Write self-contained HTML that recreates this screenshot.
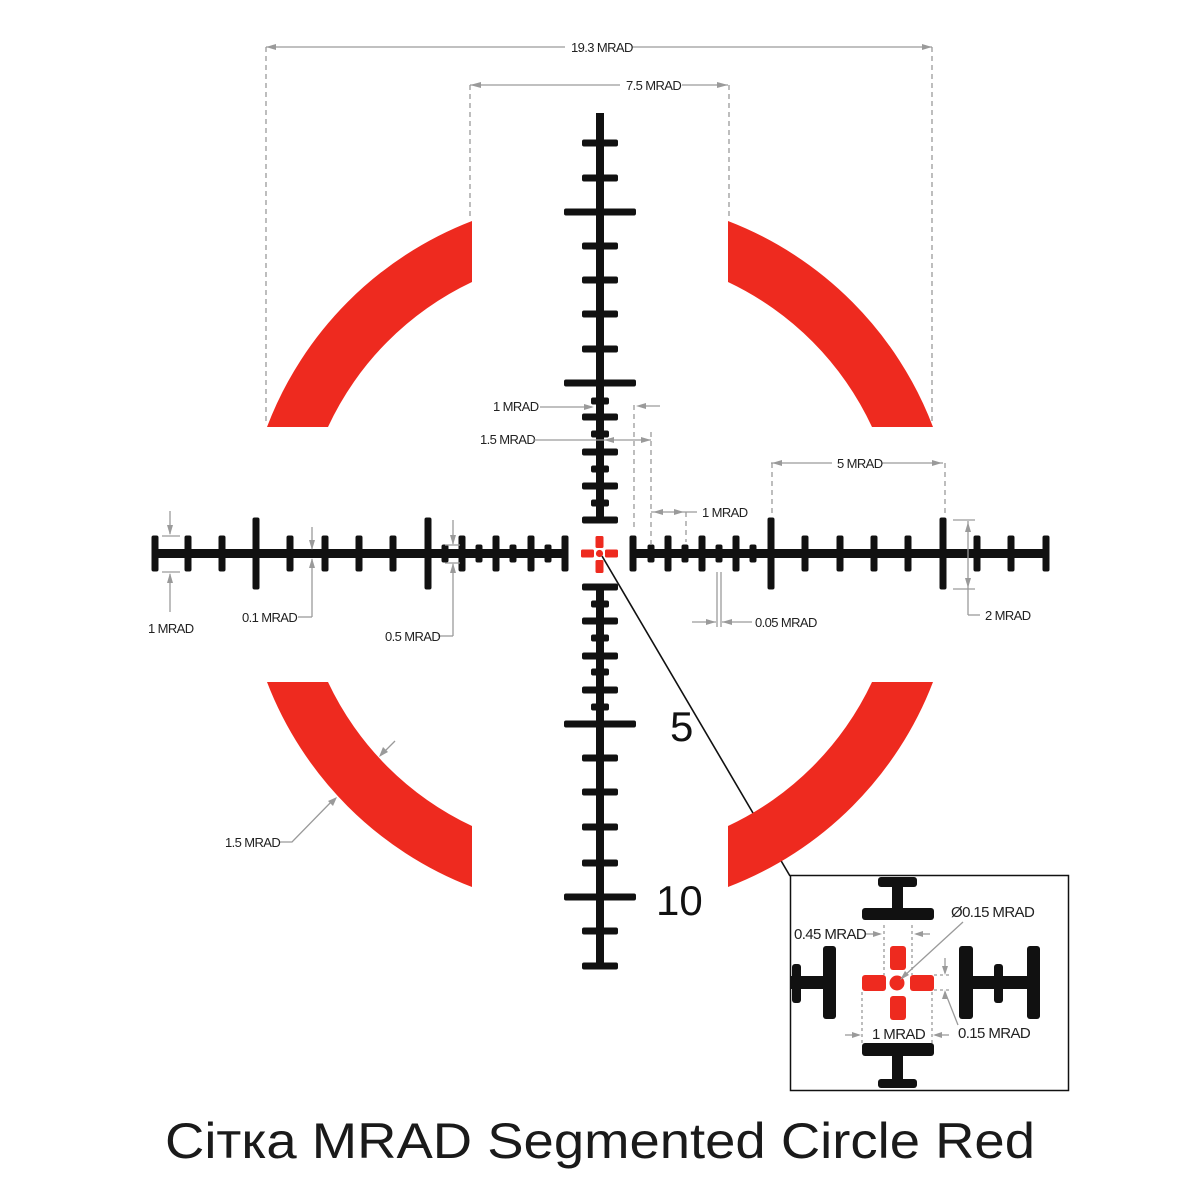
<!DOCTYPE html>
<html><head><meta charset="utf-8"><style>
html,body{margin:0;padding:0;background:#fff;}
svg{display:block}
.t{font-family:"Liberation Sans",sans-serif;font-size:13px;fill:#222;letter-spacing:-0.6px}
.g{stroke:#9a9a9a;stroke-width:1.3;fill:none}
.d{stroke:#9a9a9a;stroke-width:1.3;fill:none;stroke-dasharray:5,4}
.a{fill:#9a9a9a}
</style></head><body>
<svg width="1200" height="1200" viewBox="0 0 1200 1200" xmlns="http://www.w3.org/2000/svg">
<rect width="1200" height="1200" fill="#fff"/>
<line x1="602" y1="556" x2="790" y2="876" stroke="#111" stroke-width="1.6"/>
<g fill="#ee2a1f">
<path d="M267,427 A356,356 0 0 1 472,221 L472,282 A300,300 0 0 0 328,427 Z"/>
<path d="M728,221 A356,356 0 0 1 933,427 L872,427 A300,300 0 0 0 728,282 Z"/>
<path d="M933,682 A356,356 0 0 1 728,887 L728,826 A300,300 0 0 0 872,682 Z"/>
<path d="M472,887 A356,356 0 0 1 267,682 L328,682 A300,300 0 0 0 472,826 Z"/>
</g>
<g fill="#111">
<rect x="155" y="549" width="410" height="9"/>
<rect x="633" y="549" width="413" height="9"/>
<rect x="596" y="113" width="8" height="407"/>
<rect x="596" y="587" width="8" height="379"/>
</g>
<g fill="#111" id="hticks"></g>
<g fill="#111" id="vticks"></g>
<script>
(function(){
var ns="http://www.w3.org/2000/svg";
var h=[[155,18],[188,18],[222,18],[256,36],[290,18],[325,18],[359,18],[393,18],[428,36],[445,9],[462,18],[479,9],[496,18],[513,9],[531,18],[548,9],[565,18],
[633,18],[651,9],[668,18],[685,9],[702,18],[719,9],[736,18],[753,9],[771,36],[805,18],[840,18],[874,18],[908,18],[943,36],[977,18],[1011,18],[1046,18]];
var g=document.getElementById("hticks");
h.forEach(function(t){var r=document.createElementNS(ns,"rect");r.setAttribute("x",t[0]-3.5);r.setAttribute("y",553.5-t[1]);r.setAttribute("width",7);r.setAttribute("height",2*t[1]);r.setAttribute("rx",2);g.appendChild(r);});
var v=[[143,18],[178,18],[212,36],[246,18],[280,18],[314,18],[349,18],[383,36],[401,9],[417,18],[434,9],[452,18],[469,9],[486,18],[503,9],[520,18],
[587,18],[604,9],[621,18],[638,9],[656,18],[672,9],[690,18],[707,9],[724,36],[758,18],[792,18],[827,18],[863,18],[897,36],[931,18],[966,18]];
var gv=document.getElementById("vticks");
v.forEach(function(t){var r=document.createElementNS(ns,"rect");r.setAttribute("y",t[0]-3.5);r.setAttribute("x",600-t[1]);r.setAttribute("height",7);r.setAttribute("width",2*t[1]);r.setAttribute("rx",2);gv.appendChild(r);});
})();
</script>
<g fill="#ee2a1f">
<rect x="581" y="549.5" width="13" height="8" rx="1.5"/>
<rect x="605" y="549.5" width="13" height="8" rx="1.5"/>
<rect x="595.5" y="536" width="8" height="12" rx="1.5"/>
<rect x="595.5" y="560" width="8" height="13" rx="1.5"/>
<circle cx="599.5" cy="553.5" r="3.6"/>
</g>
<text x="670" y="741" font-family="Liberation Sans,sans-serif" font-size="42" fill="#111">5</text>
<text x="656" y="915" font-family="Liberation Sans,sans-serif" font-size="42" fill="#111">10</text>
<g>
<line class="g" x1="266" y1="47" x2="565" y2="47"/><line class="g" x1="632" y1="47" x2="932" y2="47"/>
<polygon class="a" points="266,47 276,44 276,50"/><polygon class="a" points="932,47 922,44 922,50"/>
<line class="d" x1="266" y1="47" x2="266" y2="425"/><line class="d" x1="932" y1="47" x2="932" y2="425"/>
<text class="t" x="571" y="52">19.3 MRAD</text>
<line class="g" x1="470" y1="85" x2="620" y2="85"/><line class="g" x1="682" y1="85" x2="728" y2="85"/>
<polygon class="a" points="470,85 481,82 481,88"/><polygon class="a" points="728,85 717,82 717,88"/>
<line class="d" x1="470" y1="85" x2="470" y2="218"/><line class="d" x1="729" y1="85" x2="729" y2="218"/>
<text class="t" x="626" y="90">7.5 MRAD</text>

<text class="t" x="493" y="411">1 MRAD</text>
<line class="g" x1="540" y1="407" x2="592" y2="407"/><polygon class="a" points="594,407 584,404 584,410"/>
<text class="t" x="480" y="444">1.5 MRAD</text>
<line class="g" x1="533" y1="440" x2="651" y2="440"/>
<polygon class="a" points="604,440 614,437 614,443"/><polygon class="a" points="651,440 641,437 641,443"/>
<line class="d" x1="634" y1="405" x2="634" y2="530"/><line class="d" x1="651" y1="432" x2="651" y2="545"/>
<line class="g" x1="640" y1="406" x2="660" y2="406"/><polygon class="a" points="636,406 646,403 646,409"/>
<line class="g" x1="651" y1="512" x2="697" y2="512"/>
<polygon class="a" points="653,512 663,509 663,515"/><polygon class="a" points="684,512 674,509 674,515"/>
<line class="d" x1="686" y1="512" x2="686" y2="542"/>
<text class="t" x="702" y="517">1 MRAD</text>

<line class="g" x1="771" y1="463" x2="832" y2="463"/><line class="g" x1="882" y1="463" x2="943" y2="463"/>
<polygon class="a" points="772,463 782,460 782,466"/><polygon class="a" points="942,463 932,460 932,466"/>
<line class="d" x1="772" y1="463" x2="772" y2="517"/><line class="d" x1="945" y1="463" x2="945" y2="517"/>
<text class="t" x="837" y="468">5 MRAD</text>

<line class="g" x1="953" y1="520" x2="975" y2="520"/><line class="g" x1="953" y1="589" x2="975" y2="589"/>
<line class="g" x1="968" y1="521" x2="968" y2="615"/><line class="g" x1="968" y1="615" x2="980" y2="615"/>
<polygon class="a" points="968,522 965,532 971,532"/><polygon class="a" points="968,588 965,578 971,578"/>
<text class="t" x="985" y="620">2 MRAD</text>

<line class="g" x1="717" y1="572" x2="717" y2="627"/><line class="g" x1="721" y1="572" x2="721" y2="627"/>
<line class="g" x1="692" y1="622" x2="716" y2="622"/><polygon class="a" points="716,622 706,619 706,625"/>
<line class="g" x1="722" y1="622" x2="752" y2="622"/><polygon class="a" points="722,622 732,619 732,625"/>
<text class="t" x="755" y="627">0.05 MRAD</text>

<line class="g" x1="162" y1="536" x2="180" y2="536"/><line class="g" x1="162" y1="572" x2="180" y2="572"/>
<line class="g" x1="170" y1="511" x2="170" y2="534"/><polygon class="a" points="170,535 167,525 173,525"/>
<line class="g" x1="170" y1="574" x2="170" y2="612"/><polygon class="a" points="170,573 167,583 173,583"/>
<text class="t" x="148" y="633">1 MRAD</text>

<line class="g" x1="312" y1="527" x2="312" y2="549"/><polygon class="a" points="312,550 309,540 315,540"/>
<line class="g" x1="312" y1="559" x2="312" y2="617"/><polygon class="a" points="312,558 309,568 315,568"/>
<line class="g" x1="298" y1="617" x2="312" y2="617"/>
<text class="t" x="242" y="622">0.1 MRAD</text>

<line class="g" x1="445" y1="545" x2="460" y2="545"/><line class="g" x1="445" y1="563" x2="460" y2="563"/>
<line class="g" x1="453" y1="520" x2="453" y2="544"/><polygon class="a" points="453,545 450,535 456,535"/>
<line class="g" x1="453" y1="564" x2="453" y2="636"/><polygon class="a" points="453,563 450,573 456,573"/>
<line class="g" x1="438" y1="636" x2="453" y2="636"/>
<text class="t" x="385" y="641">0.5 MRAD</text>

<line class="g" x1="395" y1="741" x2="381" y2="755"/><polygon class="a" points="379,757 383,747 388,752"/>
<polyline class="g" points="280,842 292,842 333,800"/><polygon class="a" points="337,797 333,806 328,801"/>
<text class="t" x="225" y="847">1.5 MRAD</text>
</g>

<rect x="790.5" y="875.5" width="278" height="215" fill="#fff" stroke="#111" stroke-width="1.5"/>
<g fill="#111">
<rect x="878" y="877" width="39" height="10" rx="3"/><rect x="892" y="884" width="11" height="26"/><rect x="862" y="908" width="72" height="12" rx="3"/>
<rect x="862" y="1043" width="72" height="13" rx="3"/><rect x="892" y="1054" width="11" height="28"/><rect x="878" y="1079" width="39" height="9" rx="3"/>
<rect x="823" y="946" width="13" height="73" rx="3"/><rect x="791" y="976" width="34" height="13"/><rect x="792" y="964" width="9" height="39" rx="3"/>
<rect x="959" y="946" width="14" height="73" rx="3"/><rect x="971" y="976" width="58" height="13"/><rect x="994" y="964" width="9" height="39" rx="3"/><rect x="1027" y="946" width="13" height="73" rx="3"/>
</g>
<g fill="#ee2a1f">
<rect x="862" y="975" width="24" height="16" rx="3"/><rect x="910" y="975" width="24" height="16" rx="3"/>
<rect x="890" y="946" width="16" height="24" rx="3"/><rect x="890" y="996" width="16" height="24" rx="3"/>
<circle cx="897" cy="983" r="7.5"/>
</g>
<g>
<line class="d" x1="884" y1="925" x2="884" y2="975" style="stroke-dasharray:3,3"/><line class="d" x1="912" y1="925" x2="912" y2="975" style="stroke-dasharray:3,3"/>
<line class="g" x1="866" y1="934" x2="880" y2="934"/><polygon class="a" points="882,934 873,931 873,937"/>
<line class="g" x1="916" y1="934" x2="930" y2="934"/><polygon class="a" points="914,934 923,931 923,937"/>
<text class="t" x="794" y="939" style="font-size:15px">0.45 MRAD</text>
<line class="g" x1="963" y1="922" x2="903" y2="977"/><polygon class="a" points="900,980 905,971 909,975"/>
<text class="t" x="951" y="917" style="font-size:15px">Ø0.15 MRAD</text>
<line class="d" x1="862" y1="992" x2="862" y2="1043" style="stroke-dasharray:3,3"/><line class="d" x1="932" y1="992" x2="932" y2="1043" style="stroke-dasharray:3,3"/>
<line class="g" x1="845" y1="1035" x2="859" y2="1035"/><polygon class="a" points="861,1035 852,1032 852,1038"/>
<line class="g" x1="935" y1="1035" x2="949" y2="1035"/><polygon class="a" points="933,1035 942,1032 942,1038"/>
<text class="t" x="872" y="1039" style="font-size:15px">1 MRAD</text>
<line class="d" x1="934" y1="975" x2="952" y2="975" style="stroke-dasharray:3,3"/><line class="d" x1="934" y1="990" x2="952" y2="990" style="stroke-dasharray:3,3"/>
<line class="g" x1="945" y1="958" x2="945" y2="973"/><polygon class="a" points="945,975 942,966 948,966"/>
<line class="g" x1="945" y1="992" x2="958" y2="1025"/><polygon class="a" points="945,990 942,999 948,999"/>
<text class="t" x="958" y="1038" style="font-size:15px">0.15 MRAD</text>
</g>
<text x="165" y="1158" textLength="870" lengthAdjust="spacingAndGlyphs" font-family="Liberation Sans,sans-serif" font-size="50" fill="#1a1a1a">Сітка MRAD Segmented Circle Red</text>
</svg>
</body></html>
